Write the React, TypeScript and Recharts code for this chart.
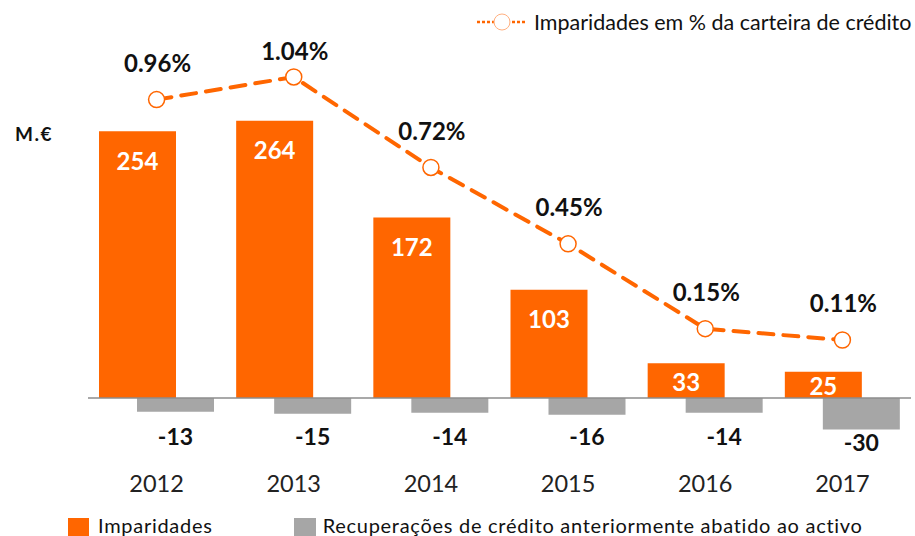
import { useEffect } from 'react'
import { Bar, ComposedChart, LabelList, Line, ReferenceLine, XAxis, YAxis } from 'recharts'

const years = ['2012', '2013', '2014', '2015', '2016', '2017']
const imparidades = [254, 264, 172, 103, 33, 25]
const recuperacoes = [-13, -15, -14, -16, -14, -30]
const imparidadesPct = [0.96, 1.04, 0.72, 0.45, 0.15, 0.11]

const ORANGE = '#FF6600'
const GREY = '#A6A6A6'
const FONT = 'Lato, "Open Sans", sans-serif'

const data = years.map((year, i) => ({
  year,
  imparidades: imparidades[i],
  recuperacoes: recuperacoes[i],
  pct: imparidadesPct[i],
}))

// white value inside the top of the orange bar (centred for short bars)
const ImparidadesLabel = (props: any) => {
  const { x, y, width, height, value } = props
  const top = Math.min(y, y + height)
  const h = Math.abs(height)
  const cy = Math.min(top + 30, top + h / 2 + 2)
  return (
    <text x={x + width / 2} y={cy} dy="0.35em" textAnchor="middle" fill="#fff" fontSize={24} fontWeight={700} fontFamily={FONT}>
      {value}
    </text>
  )
}

const RecuperacoesLabel = (props: any) => {
  const { x, y, width, height, value } = props
  const top = Math.min(y, y + height)
  const bottom = Math.max(y, y + height)
  const cy = Math.max(top + 39, bottom + 13)
  return (
    <text x={x + width / 2} y={cy} dy="0.35em" textAnchor="middle" fill="#111" fontSize={23} fontWeight={700} fontFamily={FONT}>
      {value}
    </text>
  )
}

const PctLabel = (props: any) => {
  const { x, y, value, index } = props
  const off = index === 1 ? 25 : 36
  return (
    <text x={x + 1} y={y - off} dy="0.35em" textAnchor="middle" fill="#111" fontSize={24} fontWeight={700} fontFamily={FONT}>
      {`${Number(value).toFixed(2)}%`}
    </text>
  )
}

export default function App() {
  useEffect(() => {
    document.body.style.margin = '0'
  }, [])

  return (
    <div style={{ position: 'relative', width: 915, height: 536, background: '#fff', fontFamily: FONT, overflow: 'hidden' }}>
      <ComposedChart width={915} height={536} data={data} margin={{ top: 62, right: 4, bottom: 56, left: 88 }} barSize={77} barGap={-39}>
        <XAxis dataKey="year" axisLine={false} tickLine={false} tickSize={0} tickMargin={35} height={40} interval={0} tick={{ fill: '#222', fontSize: 23.5, fontFamily: FONT }} />
        <YAxis yAxisId="m" hide domain={[-40, 320]} />
        <YAxis yAxisId="pct" hide orientation="right" domain={[-0.2436, 1.093]} />
        <Bar yAxisId="m" dataKey="imparidades" fill={ORANGE} isAnimationActive={false}>
          <LabelList dataKey="imparidades" content={ImparidadesLabel} />
        </Bar>
        <Bar yAxisId="m" dataKey="recuperacoes" fill={GREY} isAnimationActive={false}>
          <LabelList dataKey="recuperacoes" content={RecuperacoesLabel} />
        </Bar>
        <ReferenceLine yAxisId="m" y={0} stroke="#8C8C8C" strokeWidth={1.5} />
        <Line
          yAxisId="pct"
          type="linear"
          dataKey="pct"
          stroke={ORANGE}
          strokeWidth={4}
          strokeDasharray="15 10"
          strokeLinecap="round"
          dot={{ r: 8, fill: '#fff', stroke: ORANGE, strokeWidth: 1.5, strokeDasharray: '0' }}
          activeDot={false}
          isAnimationActive={false}
        >
          <LabelList dataKey="pct" content={PctLabel} />
        </Line>
      </ComposedChart>

      <div style={{ position: 'absolute', left: 15, top: 122, fontSize: 19, fontWeight: 700, letterSpacing: 1.5, color: '#111' }}>M.€</div>

      <div style={{ position: 'absolute', left: 475, top: 8, display: 'flex', alignItems: 'center', fontSize: 21.5, color: '#111', whiteSpace: 'nowrap' }}>
        <svg width={56} height={28} style={{ marginRight: 3 }}>
          <line x1={2} y1={14} x2={52} y2={14} stroke={ORANGE} strokeWidth={2.5} strokeDasharray="3 2" />
          <circle cx={27} cy={14} r={8} fill="#fff" stroke="#FFB080" strokeWidth={1} />
        </svg>
        <span>Imparidades em % da carteira de crédito</span>
      </div>

      <div style={{ position: 'absolute', left: 68, top: 512, display: 'flex', alignItems: 'center', fontSize: 20, letterSpacing: 0.72, color: '#111', whiteSpace: 'nowrap' }}>
        <span style={{ display: 'inline-block', width: 21, height: 19, background: ORANGE, marginRight: 9, marginTop: 6 }} />
        <span>Imparidades</span>
        <span style={{ display: 'inline-block', width: 22, height: 19, background: GREY, marginLeft: 81, marginRight: 7, marginTop: 6 }} />
        <span>Recuperações de crédito anteriormente abatido ao activo</span>
      </div>
    </div>
  )
}
